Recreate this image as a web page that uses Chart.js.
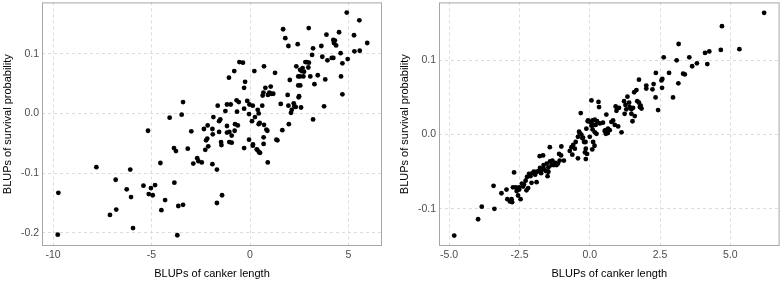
<!DOCTYPE html>
<html>
<head>
<meta charset="utf-8">
<script src="https://cdn.jsdelivr.net/npm/chart.js@4"></script>
<style>
  html, body { margin: 0; padding: 0; background: #fff; }
  #wrap { width: 782px; height: 282px; position: relative; }
  canvas { position: absolute; top: 0; }
</style>
</head>
<body>
<div id="wrap">
  <canvas id="leftChart" width="391" height="282" style="left:0"></canvas>
  <canvas id="rightChart" width="391" height="282" style="left:391px"></canvas>
</div>
<script>
// BLUPs: [canker length, survival probability]
const leftPoints = [
  [-9.73,-0.133],[-9.76,-0.203],[-7.80,-0.090],[-7.11,-0.170],[-6.79,-0.161],[-6.82,-0.111],[-6.26,-0.127],[-6.08,-0.094],
  [-6.04,-0.140],[-5.94,-0.192],[-5.41,-0.121],[-5.18,-0.029],[-5.14,-0.135],[-5.03,-0.125],[-4.94,-0.137],[-4.82,-0.120],
  [-4.55,-0.083],[-4.50,-0.162],[-4.31,-0.145],[-4.08,-0.007],[-3.84,-0.116],[-3.86,-0.058],[-3.76,-0.063],[-3.69,-0.204],
  [-3.64,-0.155],[-3.47,-0.002],[-3.40,-0.153],[-3.40,0.019],[-3.16,-0.059],[-2.98,-0.030],[-2.88,-0.084],[-2.68,-0.075],
  [-2.62,-0.080],[-2.45,-0.082],[-2.34,-0.026],[-2.27,-0.061],[-2.23,-0.045],[-2.17,-0.042],[-2.15,-0.020],[-2.12,-0.055],
  [-1.91,-0.026],[-1.89,-0.035],[-1.86,-0.006],[-1.91,-0.085],[-1.68,-0.094],[-1.68,-0.150],[-1.42,-0.137],[-1.64,0.013],
  [-1.57,-0.013],[-1.51,-0.010],[-1.57,-0.031],[-1.47,-0.048],[-1.45,-0.053],[-1.25,0.004],[-1.17,0.015],[-1.17,-0.021],
  [-1.17,-0.032],[-1.05,-0.031],[-1.05,-0.048],[-0.93,-0.049],[-0.93,-0.037],[-0.98,0.015],[-0.78,-0.029],[-0.76,-0.018],
  [-0.68,0.022],[-0.62,-0.020],[-0.57,0.019],[-0.66,0.003],[-0.30,-0.058],[-0.30,0.043],[-0.25,0.053],[-0.30,0.008],
  [-0.14,0.021],[-0.05,-0.001],[-0.03,0.015],[-0.05,-0.044],[0.14,0.013],[0.10,-0.013],[0.25,-0.006],[0.15,-0.052],
  [0.34,-0.060],[0.44,0.000],[0.44,-0.018],[0.46,-0.065],[-1.07,0.060],[-0.54,0.086],[-0.36,0.085],[-0.80,0.071],
  [0.14,-0.054],[0.22,0.071],[0.39,0.006],[0.49,-0.016],[0.51,-0.066],[0.37,-0.061],[0.62,0.013],[0.64,0.030],
  [0.68,0.035],[0.71,0.079],[0.69,-0.040],[0.69,-0.051],[0.78,0.043],[0.83,-0.027],[0.88,-0.029],[0.90,-0.082],
  [0.91,0.031],[0.98,0.035],[1.05,0.045],[1.08,0.033],[1.18,0.033],[1.27,0.068],[1.34,-0.044],[1.39,-0.045],
  [1.56,0.016],[1.64,-0.028],[1.68,0.141],[1.79,0.126],[1.95,0.113],[1.91,0.031],[1.95,0.013],[1.97,-0.018],
  [2.02,0.056],[2.12,0.006],[2.22,0.017],[2.25,0.012],[2.32,0.011],[2.35,0.079],[2.42,0.116],[2.45,0.047],
  [2.55,0.047],[2.45,0.062],[2.54,0.062],[2.47,0.027],[2.49,0.029],[2.59,0.010],[2.54,0.073],[2.62,0.071],
  [2.67,0.076],[2.74,0.070],[2.71,0.062],[2.81,0.086],[2.88,0.086],[2.99,0.085],[2.98,0.143],[2.96,0.077],
  [3.06,0.062],[3.15,0.098],[3.20,0.109],[3.27,0.049],[3.20,-0.010],[3.44,0.064],[3.62,0.113],[3.67,0.095],
  [3.76,0.012],[3.82,0.057],[3.88,0.132],[3.93,0.089],[4.15,0.093],[4.23,0.093],[4.23,0.123],[4.31,0.122],
  [4.26,0.118],[4.37,0.114],[4.52,0.136],[4.60,0.101],[4.69,0.084],[4.62,0.062],[4.69,0.032],[4.91,0.169],
  [4.96,0.091],[5.28,0.131],[5.30,0.104],[5.55,0.156],[5.57,0.105],[5.95,0.118],[2.08,0.001],[0.71,-0.019]
];

const rightPoints = [
  [-4.82,-0.136],[-3.97,-0.114],[-3.84,-0.097],[-3.39,-0.100],[-3.42,-0.069],[-3.14,-0.079],[-2.96,-0.074],[-2.93,-0.087],
  [-2.84,-0.090],[-2.76,-0.091],[-2.78,-0.087],[-2.69,-0.051],[-2.73,-0.071],[-2.63,-0.071],[-2.51,-0.071],[-2.55,-0.082],
  [-2.60,-0.076],[-2.51,-0.074],[-2.46,-0.087],[-2.41,-0.066],[-2.34,-0.067],[-2.37,-0.070],[-2.28,-0.062],[-2.23,-0.057],
  [-2.25,-0.075],[-2.19,-0.072],[-2.16,-0.053],[-2.11,-0.056],[-2.07,-0.065],[-2.04,-0.052],[-1.99,-0.050],[-1.94,-0.054],
  [-1.88,-0.050],[-1.89,-0.064],[-1.80,-0.049],[-1.77,-0.045],[-1.73,-0.052],[-1.68,-0.047],[-1.64,-0.046],[-1.78,-0.029],
  [-1.66,-0.028],[-1.64,-0.041],[-1.56,-0.049],[-1.50,-0.056],[-1.47,-0.050],[-1.53,-0.039],[-1.47,-0.044],[-1.41,-0.036],
  [-1.36,-0.041],[-1.42,-0.017],[-1.33,-0.035],[-1.28,-0.041],[-1.22,-0.038],[-1.18,-0.041],[-1.09,-0.026],[-1.02,-0.028],
  [-1.01,-0.016],[-1.13,-0.039],[-1.07,-0.035],[-0.92,-0.035],[-0.71,-0.022],[-0.65,-0.017],[-0.62,-0.027],[-0.59,-0.014],
  [-0.53,-0.019],[-0.42,-0.032],[-0.50,-0.010],[-0.42,-0.003],[-0.36,0.002],[-0.30,0.000],[-0.24,-0.004],[-0.20,-0.010],
  [-0.32,0.029],[-0.38,0.004],[-0.12,0.008],[-0.06,0.019],[0.06,0.046],[0.31,0.044],[0.33,0.037],[-0.07,0.018],
  [0.02,0.017],[0.10,0.019],[0.18,0.020],[0.26,0.018],[0.06,0.012],[0.13,0.013],[0.21,0.013],[0.36,0.015],
  [0.47,0.016],[0.59,0.027],[0.10,0.007],[0.18,0.003],[0.24,0.001],[0.00,-0.003],[0.12,-0.010],[0.56,0.006],
  [0.64,0.002],[-0.17,-0.024],[-0.14,-0.019],[-0.26,-0.005],[-0.15,-0.010],[-0.10,-0.026],[-0.14,-0.033],[0.09,-0.020],
  [0.17,-0.015],[0.53,0.005],[0.57,0.001],[0.65,0.008],[0.71,0.006],[0.77,0.017],[0.83,0.019],[0.92,0.038],
  [0.97,0.036],[0.95,0.032],[1.04,0.036],[0.89,0.013],[1.01,0.011],[1.13,0.003],[1.22,0.045],[1.27,0.040],
  [1.34,0.051],[1.40,0.043],[1.24,0.028],[1.30,0.034],[1.42,0.037],[1.48,0.034],[1.54,0.036],[1.48,0.028],
  [1.52,0.018],[1.60,0.025],[1.58,0.057],[1.66,0.060],[1.69,0.045],[1.75,0.043],[1.81,0.039],[1.84,0.035],
  [1.78,0.037],[1.75,0.074],[2.01,0.066],[2.01,0.062],[2.23,0.061],[2.27,0.068],[2.35,0.083],[2.34,0.050],
  [2.43,0.033],[2.55,0.073],[2.58,0.075],[2.57,0.063],[2.82,0.083],[2.96,0.050],[3.15,0.069],[3.32,0.082],
  [3.38,0.081],[3.64,0.092],[3.81,0.096],[4.18,0.095],[6.20,0.164],[4.70,0.146],[3.16,0.122],[2.63,0.104],
  [3.09,0.100],[3.54,0.104],[4.10,0.110],[4.25,0.112],[4.66,0.114],[5.32,0.115]
];

const leftXTicks = [-10, -5, 0, 5];
const leftYTicks = [-0.2, -0.1, 0.0, 0.1];
const rightXTicks = [-5, -2.5, 0, 2.5, 5];
const rightYTicks = [-0.1, 0.0, 0.1];

const xTitle = 'BLUPs of canker length';
const yTitle = 'BLUPs of survival probability';

const FONT = '"Liberation Sans", Arial, sans-serif';
const gridColor = '#dcdcdc';
const tickColor = '#4d4d4d';

// grey box round the panel, like ggplot's panel.border
const panelBorder = {
    id: 'panelBorder',
    afterDraw(chart) {
        const a = chart.chartArea;
        const ctx = chart.ctx;
        ctx.save();
        ctx.strokeStyle = '#a6a6a6';
        ctx.lineWidth = 1;
        ctx.strokeRect(a.left + 0.5, a.top + 0.5, a.right - a.left - 1, a.bottom - a.top - 1);
        ctx.restore();
    }
};

function makePanel(canvasId, points, xTicks, yTicks, xRange, yRange, xFmt, yAxisWidth, yTitlePad, padRight) {
    const canvas = document.getElementById(canvasId);
    return new Chart(canvas, {
        type: 'scatter',
        data: {
            datasets: [{
                data: points.map(p => ({ x: p[0], y: p[1] })),
                backgroundColor: '#000',
                borderWidth: 0,
                pointRadius: 2.4,
                pointHoverRadius: 2.4
            }]
        },
        options: {
            responsive: false,
            animation: false,
            events: [],
            layout: { padding: { top: 2, right: padRight, bottom: 0, left: 0 } },
            plugins: {
                legend: { display: false },
                tooltip: { enabled: false }
            },
            scales: {
                x: {
                    type: 'linear',
                    min: xRange[0],
                    max: xRange[1],
                    afterBuildTicks: s => { s.ticks = xTicks.map(v => ({ value: v })); },
                    afterFit: s => { s.height = 36; s.paddingLeft = 0; s.paddingRight = 0; },
                    border: { display: false, dash: [3, 3] },
                    grid: { color: gridColor, lineWidth: 1, drawTicks: false },
                    ticks: {
                        color: tickColor,
                        padding: 3,
                        font: { family: FONT, size: 10.5 },
                        maxRotation: 0,
                        callback: v => xFmt(v)
                    },
                    title: {
                        display: true,
                        text: xTitle,
                        color: '#000',
                        font: { family: FONT, size: 11 },
                        padding: { top: 0, bottom: 1 }
                    }
                },
                y: {
                    type: 'linear',
                    min: yRange[0],
                    max: yRange[1],
                    afterBuildTicks: s => { s.ticks = yTicks.map(v => ({ value: v })); },
                    afterFit: s => { s.width = yAxisWidth; s.paddingTop = 0; s.paddingBottom = 0; },
                    border: { display: false, dash: [3, 3] },
                    grid: { color: gridColor, lineWidth: 1, drawTicks: false },
                    ticks: {
                        color: tickColor,
                        padding: 3,
                        font: { family: FONT, size: 10.5 },
                        callback: v => v.toFixed(1)
                    },
                    title: {
                        display: true,
                        text: yTitle,
                        color: '#000',
                        font: { family: FONT, size: 11 },
                        padding: { top: yTitlePad, bottom: 0 }
                    }
                }
            }
        },
        plugins: [panelBorder]
    });
}

makePanel('leftChart', leftPoints, leftXTicks, leftYTicks, [-10.56, 6.7], [-0.222, 0.186],
    v => String(v), 42, 1, 9);
makePanel('rightChart', rightPoints, rightXTicks, rightYTicks, [-5.36, 6.75], [-0.150, 0.178],
    v => v.toFixed(1), 48, 7, 2);
</script>
</body>
</html>
